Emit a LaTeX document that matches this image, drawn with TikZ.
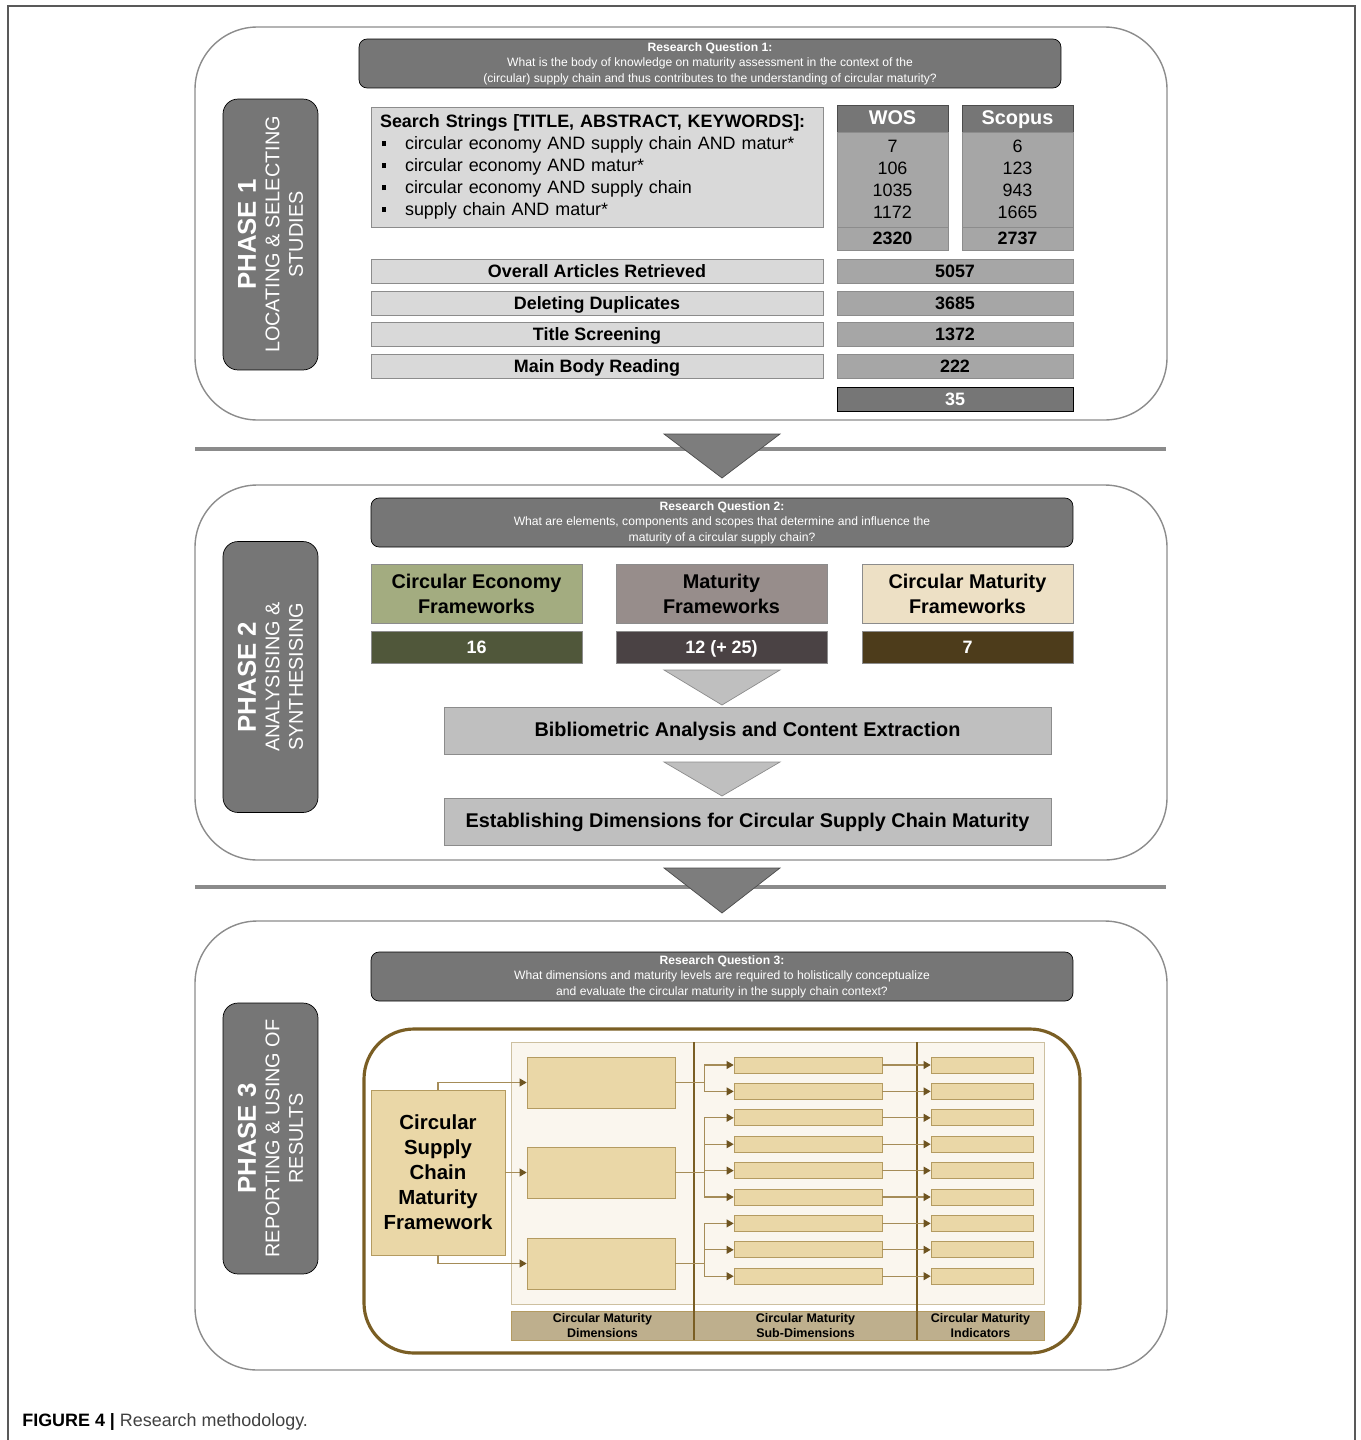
\documentclass[tikz,border=0pt]{standalone}
\usepackage{fontspec}
\setmainfont{Liberation Sans}
\usepackage{xcolor}
\usepackage{tikz}
\usetikzlibrary{arrows.meta}

\definecolor{darkgrey}{RGB}{118,118,118}
\definecolor{midgrey}{RGB}{166,166,166}
\definecolor{lightgrey}{RGB}{217,217,217}
\definecolor{palegrey}{RGB}{191,191,191}
\definecolor{edgegrey}{RGB}{140,140,140}
\definecolor{ceolive}{RGB}{163,172,128}
\definecolor{ceoliveD}{RGB}{80,87,58}
\definecolor{matmauve}{RGB}{151,141,139}
\definecolor{matmauveD}{RGB}{74,66,68}
\definecolor{cmbeige}{RGB}{237,224,197}
\definecolor{cmbrownD}{RGB}{77,60,27}
\definecolor{tan}{RGB}{234,215,167}
\definecolor{tanedge}{RGB}{180,155,97}
\definecolor{cream}{RGB}{250,246,238}
\definecolor{creamedge}{RGB}{205,192,160}
\definecolor{khaki}{RGB}{190,175,141}
\definecolor{framebrown}{RGB}{122,94,36}
\definecolor{linkbrown}{RGB}{165,140,88}
\definecolor{tipbrown}{RGB}{110,84,32}

\newcommand{\bul}{\makebox[0.5cm][l]{\hspace{0.03cm}\rule[0.2em]{0.26em}{0.26em}}}

\begin{document}
\begin{tikzpicture}
    [x=0.02cm, y=-0.02cm,
    oneline/.style = {text height=0.72em, text depth=0.02em},
    phase/.style = {draw=black, fill=darkgrey, rounded corners=0.3cm,
                    rotate=90, minimum width=5.42cm, minimum height=1.9cm,
                    text=white, align=center,
                    font=\fontsize{11.3}{13.4}\selectfont},
    question/.style = {draw=black, fill=darkgrey, rounded corners=0.16cm,
                    minimum width=14.04cm, minimum height=0.98cm, inner sep=0pt,
                    text=white, align=center,
                    font=\fontsize{6.9}{8.8}\selectfont},
    stage/.style = {draw=edgegrey, fill=lightgrey, inner sep=0pt, oneline,
                    minimum width=9.04cm, minimum height=0.48cm,
                    font=\fontsize{10.2}{12}\selectfont\bfseries},
    count/.style = {draw=edgegrey, fill=midgrey, inner sep=0pt, oneline,
                    minimum width=4.72cm, minimum height=0.48cm,
                    font=\fontsize{10.2}{12}\selectfont\bfseries},
    dbhead/.style = {draw=black!70, fill=darkgrey, text=white, inner sep=0pt, oneline,
                    minimum width=2.22cm, minimum height=0.54cm,
                    font=\fontsize{11.3}{13}\selectfont\bfseries},
    dbbody/.style = {draw=edgegrey, fill=midgrey, inner sep=0pt, align=center,
                    minimum width=2.22cm, minimum height=1.9cm,
                    font=\fontsize{10.2}{12.5}\selectfont},
    dbtotal/.style = {draw=edgegrey, fill=midgrey, inner sep=0pt, oneline,
                    minimum width=2.22cm, minimum height=0.46cm,
                    font=\fontsize{10.2}{12}\selectfont\bfseries},
    frame/.style = {draw=edgegrey, inner sep=0pt, align=center,
                    minimum width=4.22cm, minimum height=1.18cm,
                    font=\fontsize{11.3}{14.2}\selectfont\bfseries},
    tally/.style = {draw=edgegrey, text=white, inner sep=0pt, oneline,
                    minimum width=4.22cm, minimum height=0.64cm,
                    font=\fontsize{10.2}{12}\selectfont\bfseries},
    process/.style = {draw=edgegrey, fill=palegrey, inner sep=0pt, oneline,
                    minimum width=12.14cm, minimum height=0.94cm,
                    font=\fontsize{11.3}{13}\selectfont\bfseries},
    tanbox/.style = {draw=tanedge, fill=tan, inner sep=0pt},
    barlabel/.style = {align=center, inner sep=0pt,
                    font=\fontsize{7.1}{8.5}\selectfont\bfseries},
    link/.style = {draw=linkbrown, line width=0.6pt,
                    -{Triangle[length=4pt,width=4.5pt,color=tipbrown]}},
    sepline/.style = {draw=darkgrey!85!white, line width=2.2pt},
    phasebox/.style = {draw=edgegrey, line width=0.8pt, rounded corners=1.25cm}]
    \useasboundingbox (0,0) rectangle (1360,1440);
    % Marco exterior
    \draw[black!65, line width=0.8pt] (8,1440) -- (8,6) -- (1355,6) -- (1355,1440);

    % Fase 1
    \draw[phasebox] (195,27) rectangle (1167,420);
    \node[phase] (phase1) at (270.5,234.5)
        {{\fontsize{14.7}{13.4}\selectfont\bfseries PHASE 1}\\LOCATING \& SELECTING\\STUDIES};
    \node[question, minimum width=14.04cm] (rq1) at (710,63.5)
        {\textbf{Research Question 1:}\\What is the body of knowledge on maturity assessment in the context of the\\(circular) supply chain and thus contributes to the understanding of circular maturity?};
    \node[draw=edgegrey, fill=lightgrey, minimum width=9.04cm, minimum height=2.4cm,
          inner xsep=0.18cm, text width=8.68cm, align=left,
          font=\fontsize{10.2}{12.5}\selectfont] (search) at (597,167)
        {\textbf{Search Strings [TITLE, ABSTRACT, KEYWORDS]:}\\
         \bul circular economy AND supply chain AND matur*\\
         \bul circular economy AND matur*\\
         \bul circular economy AND supply chain\\
         \bul supply chain AND matur*};
    % Bases de datos
    \node[dbhead] (wos) at (892.5,118.5) {WOS};
    \node[dbbody] (wosbody) at (892.5,179.5) {7\\106\\1035\\1172};
    \node[dbtotal] (wostotal) at (892.5,238.5) {2320};
    \node[dbhead] (scopus) at (1017.5,118.5) {Scopus};
    \node[dbbody] (scopusbody) at (1017.5,179.5) {6\\123\\943\\1665};
    \node[dbtotal] (scopustotal) at (1017.5,238.5) {2737};
    % Pasos de seleccion
    \node[stage] (overall) at (597,271) {Overall Articles Retrieved};
    \node[count] (overallN) at (955,271) {5057};
    \node[stage] (duplicates) at (597,303) {Deleting Duplicates};
    \node[count] (duplicatesN) at (955,303) {3685};
    \node[stage] (title) at (597,334.5) {Title Screening};
    \node[count] (titleN) at (955,334.5) {1372};
    \node[stage] (body) at (597,366) {Main Body Reading};
    \node[count] (bodyN) at (955,366) {222};
    \node[count, fill=darkgrey, draw=black, text=white] (final) at (955,399) {35};

    % Separador 1
    \draw[sepline] (195,449) -- (1166,449);
    \filldraw[fill=darkgrey!95!white, draw=black!70] (664,434) -- (780,434) -- (722,478) -- cycle;

    % Fase 2
    \draw[phasebox] (195,485) rectangle (1167,860);
    \node[phase] (phase2) at (270.5,677)
        {{\fontsize{14.7}{13.4}\selectfont\bfseries PHASE 2}\\ANALYSISING \&\\SYNTHESISING};
    \node[question] (rq2) at (722,522.5)
        {\textbf{Research Question 2:}\\What are elements, components and scopes that determine and influence the\\maturity of a circular supply chain?};
    \node[frame, fill=ceolive] (ce) at (476.5,593.5) {Circular Economy\\Frameworks};
    \node[tally, fill=ceoliveD] (ceN) at (476.5,647) {16};
    \node[frame, fill=matmauve] (mat) at (721.5,593.5) {Maturity\\Frameworks};
    \node[tally, fill=matmauveD] (matN) at (721.5,647) {12 (+ 25)};
    \node[frame, fill=cmbeige] (cm) at (967.5,593.5) {Circular Maturity\\Frameworks};
    \node[tally, fill=cmbrownD] (cmN) at (967.5,647) {7};
    \filldraw[fill=palegrey, draw=edgegrey] (664,670) -- (780,670) -- (722,705) -- cycle;
    \node[process] (biblio) at (747.5,730.5) {Bibliometric Analysis and Content Extraction};
    \filldraw[fill=palegrey, draw=edgegrey] (664,762) -- (780,762) -- (722,796) -- cycle;
    \node[process] (dimensions) at (747.5,821.5) {Establishing Dimensions for Circular Supply Chain Maturity};

    % Separador 2
    \draw[sepline] (195,887) -- (1166,887);
    \filldraw[fill=darkgrey!95!white, draw=black!70] (664,868) -- (780,868) -- (722,913) -- cycle;

    % Fase 3
    \draw[phasebox] (195,921) rectangle (1167,1370);
    \node[phase] (phase3) at (270.5,1138.5)
        {{\fontsize{14.7}{13.4}\selectfont\bfseries PHASE 3}\\REPORTING \& USING OF\\RESULTS};
    \node[question] (rq3) at (722,976.5)
        {\textbf{Research Question 3:}\\What dimensions and maturity levels are required to holistically conceptualize\\and evaluate the circular maturity in the supply chain context?};
    \draw[draw=framebrown, line width=1.8pt, rounded corners=1cm] (364,1029) rectangle (1080,1353);
    \draw[draw=creamedge, fill=cream] (511,1042) rectangle (1044,1304);
    \draw[draw=tanedge, fill=khaki] (511,1311) rectangle (1044,1340);
    \draw[draw=framebrown, line width=0.8pt] (694,1042) -- (694,1340);
    \draw[draw=framebrown, line width=0.8pt] (917,1042) -- (917,1340);
    \node[barlabel] (dimlabel) at (602.5,1325.5) {Circular Maturity\\Dimensions};
    \node[barlabel] (sublabel) at (805.5,1325.5) {Circular Maturity\\Sub-Dimensions};
    \node[barlabel] (indlabel) at (980.5,1325.5) {Circular Maturity\\Indicators};
    % Marco de madurez
    \node[tanbox, minimum width=2.68cm, minimum height=3.3cm, align=center,
          font=\fontsize{11.6}{14.2}\selectfont\bfseries] (cscmf) at (438,1172.5)
        {Circular\\Supply\\Chain\\Maturity\\Framework};
    \node[tanbox, minimum width=2.96cm, minimum height=1.02cm] (dim1) at (601,1082.5) {};
    \node[tanbox, minimum width=2.96cm, minimum height=1.02cm] (dim2) at (601,1172.5) {};
    \node[tanbox, minimum width=2.96cm, minimum height=1.02cm] (dim3) at (601,1263.5) {};
    \draw[link] (cscmf.north) |- (dim1.west);
    \draw[link] (cscmf.east) -- (dim2.west);
    \draw[link] (cscmf.south) |- (dim3.west);
    \foreach \i in {1,...,9}{
        \node[tanbox, minimum width=2.96cm, minimum height=0.32cm] (sub\i) at (808,{1065+26.4*(\i-1)}) {};
        \node[tanbox, minimum width=2.04cm, minimum height=0.32cm] (ind\i) at (982,{1065+26.4*(\i-1)}) {};
        \draw[link] (sub\i.east) -- (ind\i.west);
    }
    \foreach \d/\s in {dim1/1, dim1/2, dim2/3, dim2/4, dim2/5, dim2/6, dim3/7, dim3/8, dim3/9}
        \draw[link] (\d.east) -- ++(29,0) |- (sub\s.west);

    % Pie de figura
    \node[anchor=base west, inner sep=0pt, font=\fontsize{10.2}{12}\selectfont] (caption) at (22,1426)
        {\textbf{FIGURE 4 |} \textcolor{black!75}{Research methodology.}};
\end{tikzpicture}
\end{document}
